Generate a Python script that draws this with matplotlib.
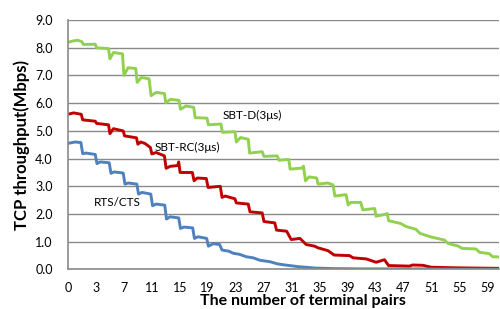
import matplotlib
matplotlib.use("Agg")
import matplotlib.pyplot as plt

plt.rcParams['font.family'] = ['Lato', 'DejaVu Sans']

# x positions along the category axis (one tick label every 4 positions)
tick_pos = [0, 4, 8, 12, 16, 20, 24, 28, 32, 36, 40, 44, 48, 52, 56, 60]
tick_labels = ['0', '3', '7', '11', '15', '19', '23', '27', '31', '35', '39', '43', '47', '51', '55', '59']

sbt_d_x = [0, 0.8, 1.4, 2.0, 2.2, 3.9, 4.1, 5.8, 6.0, 6.5, 7.8, 8.0, 8.6, 9.7, 9.9,
           10.5, 11.6, 11.9, 12.6, 13.8, 14.0, 14.7, 15.9, 16.1, 16.9, 18.0, 18.2, 19.9,
           20.1, 21.9, 22.1, 23.9, 24.1, 24.7, 25.8, 26.0, 27.8, 28.05, 29.95, 30.2, 31.6,
           31.8, 33.5, 33.7, 34.0, 34.5, 35.6, 35.8, 37.2, 37.95, 38.2, 39.8, 40.1, 40.5,
           41.9, 42.2, 43.9, 44.1, 45.6, 45.7, 45.9, 47.6, 48.4, 49.8, 50.4, 52.0, 53.9,
           54.4, 55.9, 56.4, 58.4, 58.9, 60.3, 60.8, 61.7]
sbt_d_y = [8.2, 8.25, 8.27, 8.22, 8.12, 8.13, 8.0, 7.97, 7.6, 7.83, 7.78, 7.0, 7.28, 7.25, 6.75,
           6.93, 6.88, 6.27, 6.39, 6.35, 6.02, 6.14, 6.1, 5.78, 5.9, 5.85, 5.48, 5.46,
           5.22, 5.25, 4.95, 4.97, 4.6, 4.76, 4.7, 4.2, 4.25, 4.08, 4.1, 3.94, 3.97,
           3.62, 3.66, 3.73, 3.2, 3.34, 3.3, 3.08, 3.12, 3.05, 2.65, 2.7, 2.33, 2.42,
           2.42, 2.15, 2.2, 1.92, 2.0, 2.02, 1.76, 1.66, 1.55, 1.45, 1.3, 1.17, 1.06,
           0.94, 0.84, 0.76, 0.74, 0.62, 0.57, 0.46, 0.45]

sbt_rc_x = [0, 0.8, 1.9, 2.1, 3.9, 4.1, 5.8, 6.0, 6.5, 7.9, 8.1, 9.8, 10.0, 10.4, 11.0,
            11.8, 12.0, 12.6, 13.8, 14.05, 14.6, 15.7, 15.85, 16.05, 17.8, 18.05, 18.5,
            19.8, 20.05, 21.8, 22.05, 22.5, 23.9, 24.1, 25.8, 26.05, 27.8, 28.05, 29.6,
            29.85, 31.3, 31.95, 33.2, 34.1, 35.3, 35.8, 37.2, 38.1, 40.3, 40.8, 42.7, 44.1,
            45.3, 45.9, 48.9, 49.3, 50.8, 52.0, 55.3, 58.2, 61.7]
sbt_rc_y = [5.6, 5.65, 5.6, 5.4, 5.35, 5.27, 5.22, 4.9, 5.08, 5.0, 4.82, 4.75, 4.52, 4.6, 4.55,
            4.4, 4.17, 4.22, 4.1, 3.65, 3.72, 3.75, 3.88, 3.5, 3.5, 3.2, 3.3,
            3.28, 2.96, 3.0, 2.6, 2.65, 2.55, 2.4, 2.36, 2.08, 2.04, 1.73, 1.68,
            1.42, 1.38, 1.08, 1.12, 0.9, 0.84, 0.78, 0.68, 0.52, 0.5, 0.42, 0.38, 0.26,
            0.35, 0.14, 0.12, 0.16, 0.15, 0.08, 0.06, 0.05, 0.04]

rts_cts_x = [0, 1.0, 1.85, 2.1, 2.6, 3.9, 4.15, 4.6, 5.9, 6.15, 6.6, 7.9, 8.15, 8.6, 9.85,
             10.1, 10.6, 11.85, 12.1, 12.6, 13.85, 14.1, 14.6, 15.85, 16.1, 16.6, 17.85,
             18.1, 18.6, 19.85, 20.1, 20.8, 21.7, 22.05, 23.0, 23.7, 24.5, 25.5, 26.5,
             27.5, 28.9, 30.0, 31.1, 33.0, 35.4, 38.0, 42.0, 50.0, 55.0, 61.7]
rts_cts_y = [4.55, 4.6, 4.58, 4.18, 4.2, 4.15, 3.82, 3.88, 3.85, 3.47, 3.52, 3.48, 3.08, 3.12, 3.08,
             2.72, 2.78, 2.72, 2.3, 2.36, 2.32, 1.82, 1.9, 1.86, 1.48, 1.53, 1.5,
             1.12, 1.18, 1.12, 0.84, 0.93, 0.9, 0.7, 0.66, 0.58, 0.55, 0.46, 0.42,
             0.33, 0.28, 0.2, 0.16, 0.1, 0.05, 0.03, 0.02, 0.02, 0.01, 0.01]

fig = plt.figure(figsize=(5, 3.09), dpi=100)
ax = fig.add_axes([0.136, 0.128, 0.862, 0.807])

ax.plot(sbt_d_x, sbt_d_y, color='#92D050', lw=2.1, solid_joinstyle='round')
ax.plot(sbt_rc_x, sbt_rc_y, color='#C00000', lw=2.1, solid_joinstyle='round')
ax.plot(rts_cts_x, rts_cts_y, color='#4F81BD', lw=2.1, solid_joinstyle='round')

ax.text(26.4, 5.54, 'SBT-D(3μs)', fontsize=8.5, ha='center', va='center')
ax.text(17.1, 4.42, 'SBT-RC(3μs)', fontsize=8.5, ha='center', va='center')
ax.text(7.0, 2.4, 'RTS/CTS', fontsize=8.5, ha='center', va='center')

ax.set_xlim(0, 61.7)
ax.set_ylim(0, 9)
ax.set_xticks(tick_pos)
ax.set_xticklabels(tick_labels)
ax.set_yticks([0, 1, 2, 3, 4, 5, 6, 7, 8, 9])
ax.set_yticklabels(['%.1f' % v for v in range(10)])
ax.tick_params(length=0, labelsize=9)
ax.tick_params(axis='x', pad=9)
ax.tick_params(axis='y', pad=11)
ax.yaxis.grid(True, color='#8a8a8a', lw=1.0)
ax.set_axisbelow(True)
for s in ['top', 'right']:
    ax.spines[s].set_visible(False)
for s in ['left', 'bottom']:
    ax.spines[s].set_color('#8a8a8a')
    ax.spines[s].set_linewidth(1.2)

ax.set_xlabel('The number of terminal pairs', fontsize=11.5, fontweight='bold')
ax.xaxis.label.set_va('baseline')
ax.xaxis.set_label_coords(0.545, -0.142)
ax.set_ylabel('TCP throughput(Mbps)', fontsize=12, fontweight='bold', labelpad=4)

fig.savefig('out.png', dpi=100)
